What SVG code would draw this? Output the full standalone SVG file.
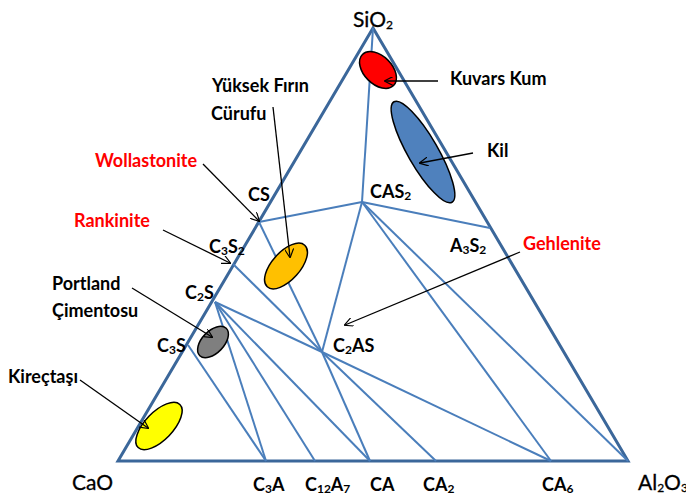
<svg xmlns="http://www.w3.org/2000/svg" width="686" height="495" viewBox="0 0 686 495">
<defs>
<marker id="ah" viewBox="0 0 10 10" refX="9" refY="5" markerWidth="9" markerHeight="9" markerUnits="userSpaceOnUse" orient="auto">
<path d="M0,0 L10,5 L0,10" fill="none" stroke="#000" stroke-width="1.3"/>
</marker>
<style>
.edge{fill:none;stroke:#3b679a;stroke-width:3;stroke-linejoin:miter}
.tie{stroke:#4a7ebb;stroke-width:2;fill:none}
.arr{stroke:#000;stroke-width:1.3;fill:none;marker-end:url(#ah)}
.lbl{font-family:Lato,"Liberation Sans",sans-serif;font-weight:bold;font-size:18px;fill:#000}
.red{fill:#ff0000}
.big{font-family:Lato,"Liberation Sans",sans-serif;font-size:21px;fill:#000;stroke:#000;stroke-width:0.3}
.sub{font-size:12px}
.ell{stroke:#000;stroke-width:1.5}
</style>
</defs>
<rect width="686" height="495" fill="#fff"/>
<g id="triangle">
<path class="edge" d="M373,28 L118,461 L628,461 Z"/>
</g>
<g id="connectors">
<line class="tie" x1="362" y1="202" x2="373" y2="28"/>
<line class="tie" x1="259" y1="222" x2="362" y2="202"/>
<line class="tie" x1="362" y1="202" x2="490" y2="228"/>
<line class="tie" x1="362" y1="202" x2="322" y2="352"/>
<line class="tie" x1="362" y1="202" x2="551" y2="461"/>
<line class="tie" x1="362" y1="202" x2="628" y2="461"/>
<line class="tie" x1="259" y1="222" x2="322" y2="352"/>
<line class="tie" x1="233" y1="264" x2="322" y2="352"/>
<line class="tie" x1="215" y1="302" x2="322" y2="352"/>
<line class="tie" x1="215" y1="302" x2="266" y2="461"/>
<line class="tie" x1="215" y1="302" x2="315" y2="461"/>
<line class="tie" x1="215" y1="302" x2="370" y2="461"/>
<line class="tie" x1="188" y1="345" x2="266" y2="461"/>
<line class="tie" x1="322" y1="352" x2="370" y2="461"/>
<line class="tie" x1="322" y1="352" x2="436" y2="461"/>
<line class="tie" x1="322" y1="352" x2="551" y2="461"/>
</g>
<g id="kuvars-kum">
<ellipse class="ell" cx="378" cy="70" rx="22" ry="14" transform="rotate(45 378 70)" fill="#ff0000"/>
<text class="lbl" x="450" y="85">Kuvars Kum</text>
</g>
<g id="kil">
<ellipse class="ell" cx="423" cy="152" rx="58" ry="15" transform="rotate(60 423 152)" fill="#4f81bd"/>
<text class="lbl" x="487" y="157">Kil</text>
</g>
<g id="curuf">
<ellipse class="ell" cx="286" cy="266" rx="28" ry="14" transform="rotate(-48 286 266)" fill="#ffc000"/>
<text class="lbl" x="212" y="92">Yüksek Fırın</text>
<text class="lbl" x="211" y="120">Cürufu</text>
</g>
<g id="portland">
<ellipse class="ell" cx="213" cy="342" rx="19" ry="11" transform="rotate(-46 213 342)" fill="#7f7f7f"/>
<text class="lbl" x="52" y="290">Portland</text>
<text class="lbl" x="52" y="317">Çimentosu</text>
</g>
<g id="kirectasi">
<ellipse class="ell" cx="159" cy="426" rx="30" ry="14" transform="rotate(-46 159 426)" fill="#ffff00"/>
<text class="lbl" x="8" y="383">Kireçtaşı</text>
</g>
<g id="wollastonite"><text class="lbl red" x="95" y="167">Wollastonite</text></g>
<g id="rankinite"><text class="lbl red" x="74" y="227">Rankinite</text></g>
<g id="gehlenite"><text class="lbl red" x="523" y="250">Gehlenite</text></g>
<g id="arrows">
<line class="arr" x1="438" y1="81" x2="385" y2="81"/>
<line class="arr" x1="473" y1="153" x2="420" y2="163"/>
<line class="arr" x1="273" y1="107" x2="290" y2="257"/>
<line class="arr" x1="203" y1="164" x2="259" y2="221"/>
<line class="arr" x1="163" y1="230" x2="230" y2="263"/>
<line class="arr" x1="132" y1="288" x2="212" y2="337"/>
<line class="arr" x1="80" y1="380" x2="148" y2="428"/>
<line class="arr" x1="520" y1="252" x2="345" y2="325"/>
</g>
<g id="SiO2"><text class="big" x="353" y="27">SiO<tspan class="sub" dy="2">2</tspan></text></g>
<g id="CaO"><text class="big" x="72" y="490">CaO</text></g>
<g id="Al2O3"><text class="big" x="638" y="490">Al<tspan class="sub" dy="2">2</tspan><tspan dy="-2">O</tspan><tspan class="sub" dy="2">3</tspan></text></g>
<g id="CS"><text class="lbl" x="248" y="201">CS</text></g>
<g id="C3S2"><text class="lbl" x="209" y="253">C<tspan class="sub" dy="2">3</tspan><tspan dy="-2">S</tspan><tspan class="sub" dy="2">2</tspan></text></g>
<g id="C2S"><text class="lbl" x="185" y="299">C<tspan class="sub" dy="2">2</tspan><tspan dy="-2">S</tspan></text></g>
<g id="C3S"><text class="lbl" x="157" y="352">C<tspan class="sub" dy="2">3</tspan><tspan dy="-2">S</tspan></text></g>
<g id="CAS2"><text class="lbl" x="370" y="198">CAS<tspan class="sub" dy="2">2</tspan></text></g>
<g id="A3S2"><text class="lbl" x="450" y="252">A<tspan class="sub" dy="2">3</tspan><tspan dy="-2">S</tspan><tspan class="sub" dy="2">2</tspan></text></g>
<g id="C2AS"><text class="lbl" x="333" y="352">C<tspan class="sub" dy="2">2</tspan><tspan dy="-2">AS</tspan></text></g>
<g id="C3A"><text class="lbl" x="253" y="491">C<tspan class="sub" dy="2">3</tspan><tspan dy="-2">A</tspan></text></g>
<g id="C12A7"><text class="lbl" x="305" y="491">C<tspan class="sub" dy="2">12</tspan><tspan dy="-2">A</tspan><tspan class="sub" dy="2">7</tspan></text></g>
<g id="CA"><text class="lbl" x="370" y="491">CA</text></g>
<g id="CA2"><text class="lbl" x="423" y="491">CA<tspan class="sub" dy="2">2</tspan></text></g>
<g id="CA6"><text class="lbl" x="542" y="491">CA<tspan class="sub" dy="2">6</tspan></text></g>
</svg>
